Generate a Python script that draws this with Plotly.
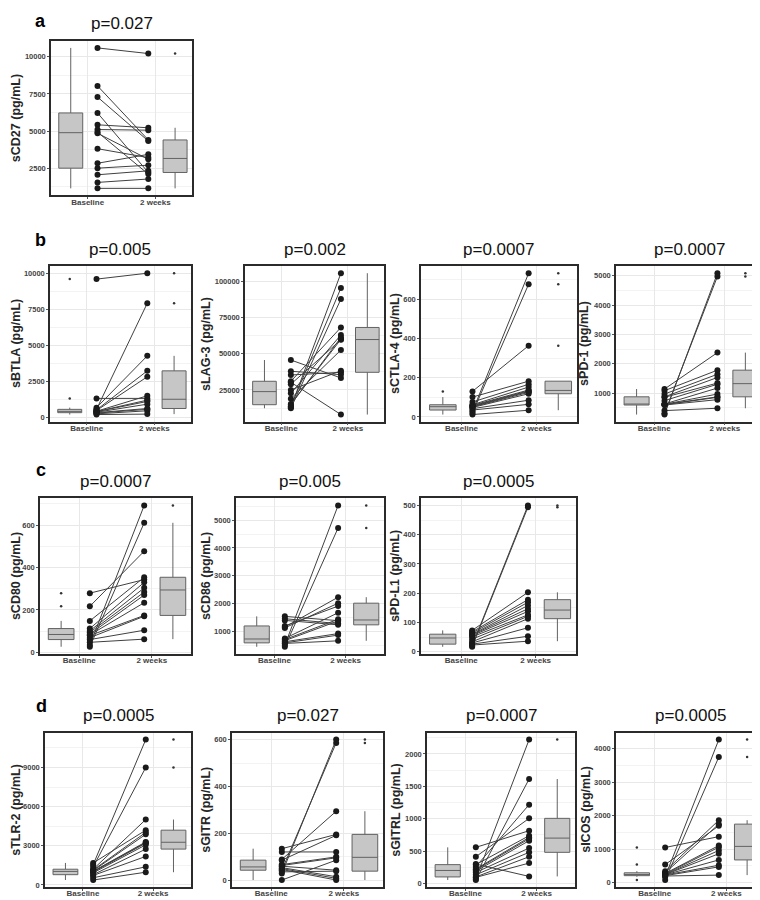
import plotly.graph_objects as go

GROUPS = ["Baseline", "2 weeks"]

NAMES = ["sCD27", "sBTLA", "sLAG-3", "sCTLA-4", "sPD-1", "sCD80", "sCD86",
         "sPD-L1", "sTLR-2", "sGITR", "sGITRL", "sICOS"]
PVALS = ["p=0.027", "p=0.005", "p=0.002", "p=0.0007", "p=0.0007", "p=0.0007",
         "p=0.005", "p=0.0005", "p=0.0005", "p=0.027", "p=0.0007", "p=0.0005"]
DTICKS = [2500, 2500, 25000, 200, 1000, 200, 1000, 100, 3000, 200, 500, 1000]

CD27_BASE = [10600, 8040, 7290, 6220, 5420, 5100, 4930, 4850, 3810, 2830, 2500, 2055, 1540, 1140]
CD27_WK2 = [10220, 4400, 4330, 2210, 5220, 5060, 2100, 3100, 3210, 3430, 2700, 2320, 1770, 1140]

BTLA_BASE = [9590, 1320, 680, 560, 520, 480, 430, 410, 400, 360, 330, 300, 250, 200]
BTLA_WK2 = [10000, 1320, 4270, 7920, 3230, 2820, 1500, 1200, 1110, 920, 620, 560, 460, 230]

LAG3_BASE = [12350, 13000, 13700, 14800, 15300, 19000, 22700, 25000, 29000, 30300, 31000, 35350, 37900, 45700]
LAG3_WK2 = [87800, 105700, 95400, 61300, 60000, 52600, 63000, 38300, 59700, 8000, 68200, 37200, 35600, 33300]

CTLA4_BASE = [130, 101, 76, 62, 59, 56, 53, 51, 48, 42, 35, 28, 20, 12]
CTLA4_WK2 = [363, 182, 166, 152, 137, 133, 130, 125, 118, 85, 64, 732, 676, 34]

PD1_BASE = [1136, 1080, 966, 870, 853, 740, 625, 615, 610, 600, 590, 400, 310, 265]
PD1_WK2 = [2380, 1780, 1640, 1530, 1340, 1300, 1170, 966, 870, 853, 774, 480, 4980, 5090]

CD80_BASE = [279, 217, 148, 112, 101, 94, 86, 82, 79, 69, 60, 47, 34, 26]
CD80_WK2 = [343, 477, 354, 330, 304, 284, 270, 234, 174, 170, 104, 62, 693, 611]

CD86_BASE = [1535, 1450, 1390, 1190, 1150, 1120, 740, 700, 660, 620, 580, 560, 500, 440]
CD86_WK2 = [1380, 1275, 1230, 1905, 2225, 2010, 1665, 1430, 1370, 915, 860, 655, 5530, 4720]

PDL1_BASE = [73, 68, 64, 60, 58, 55, 51, 43, 34, 30, 26, 23, 20, 17]
PDL1_WK2 = [203, 178, 169, 158, 147, 138, 126, 121, 113, 82, 53, 36, 500, 494]

TLR2_BASE = [1690, 1560, 1390, 1210, 1150, 1100, 1050, 1030, 1000, 930, 790, 730, 555, 380]
TLR2_WK2 = [4200, 11140, 9000, 5015, 4030, 3880, 3300, 3250, 3200, 3075, 2750, 2190, 1390, 980]

GITR_BASE = [134, 120, 88, 85, 66, 62, 59, 53, 49, 45, 42, 35, 28, 0]
GITR_WK2 = [195, 120, 294, 191, 99, 95, 42, 14, 7, 0, 586, 38, 600, 85]

GITRL_BASE = [557, 412, 299, 290, 258, 222, 210, 190, 170, 134, 100, 93, 70, 52]
GITRL_WK2 = [814, 1005, 108, 737, 1217, 710, 690, 660, 546, 480, 412, 314, 2222, 1613]

ICOS_BASE = [1052, 540, 344, 295, 275, 260, 246, 240, 235, 230, 210, 200, 177, 79]
ICOS_WK2 = [1376, 1700, 1868, 1750, 1110, 1060, 963, 865, 680, 521, 472, 226, 4276, 3755]

BASES = [CD27_BASE, BTLA_BASE, LAG3_BASE, CTLA4_BASE, PD1_BASE, CD80_BASE,
         CD86_BASE, PDL1_BASE, TLR2_BASE, GITR_BASE, GITRL_BASE, ICOS_BASE]
WK2S = [CD27_WK2, BTLA_WK2, LAG3_WK2, CTLA4_WK2, PD1_WK2, CD80_WK2,
        CD86_WK2, PDL1_WK2, TLR2_WK2, GITR_WK2, GITRL_WK2, ICOS_WK2]

W, H = 760, 900
# panel plot areas in pixels: left, right, row, y-title centre x
ROW_Y = [(33, 188), (259, 415), (492, 648), (727, 882)]
PANEL_PX = [
    (43, 184, 0, 8),
    (42, 183, 1, 8), (237, 376, 1, 198), (413, 569, 1, 387), (608, 755, 1, 576),
    (32, 183, 2, 8), (228, 376, 2, 198), (413, 568, 2, 387),
    (37, 183, 3, 8), (224, 375, 3, 198), (419, 567, 3, 388), (608, 757, 3, 578),
]
LETTERS = [("a", 32, 1), ("b", 32, 221), ("c", 33, 452), ("d", 33, 688)]

BOX_X = (0.14, 0.88)
DOT_X = (0.33, 0.69)
TICK_X = (0.26, 0.74)

FONT = "Liberation Sans, Arial, sans-serif"

fig = go.Figure()
layout = dict(
    width=W, height=H, margin=dict(l=0, r=0, t=0, b=0),
    paper_bgcolor="white", plot_bgcolor="white", showlegend=False,
    font=dict(family=FONT), annotations=[],
)

for i, (name, pv, dt, base, wk2) in enumerate(zip(NAMES, PVALS, DTICKS, BASES, WK2S)):
    left, right, row, tx = PANEL_PX[i]
    top, bottom = ROW_Y[row]
    k = "" if i == 0 else str(i + 1)
    xa, ya = "x" + k, "y" + k

    allv = base + wk2
    lo, hi = min(allv), max(allv)
    pad = 0.05 * (hi - lo)

    for pos, vals in zip(BOX_X, (base, wk2)):
        fig.add_trace(go.Box(
            y=vals, x=[pos] * len(vals), xaxis=xa, yaxis=ya, width=0.17,
            fillcolor="#c6c6c6", line=dict(color="#626262", width=1),
            whiskerwidth=0, boxpoints="outliers", jitter=0, pointpos=0,
            marker=dict(color="#333333", size=2.5),
            hoverinfo="y",
        ))

    xs, ys = [], []
    for b, w in zip(base, wk2):
        xs += [DOT_X[0], DOT_X[1], None]
        ys += [b, w, None]
    fig.add_trace(go.Scatter(
        x=xs, y=ys, xaxis=xa, yaxis=ya, mode="lines+markers",
        line=dict(color="#404040", width=1),
        marker=dict(color="#1a1a1a", size=6),
    ))

    axis_common = dict(
        showline=True, mirror=True, linecolor="#2b2b2b", linewidth=1.5,
        ticks="outside", ticklen=2, tickcolor="#555555",
        zeroline=False, gridcolor="#e8e8e8", gridwidth=1,
    )
    layout["xaxis" + k] = dict(
        axis_common, domain=[left / W, right / W], anchor=ya, range=[0, 1],
        tickvals=list(TICK_X), ticktext=GROUPS, ticklabelstandoff=-4,
        tickfont=dict(size=8, color="#444444", weight="bold"),
    )
    layout["yaxis" + k] = dict(
        axis_common, domain=[1 - bottom / H, 1 - top / H], anchor=xa,
        range=[lo - pad, hi + pad], tick0=0, dtick=dt, tickformat="d",
        ticklabelstandoff=0,
        minor=dict(dtick=dt / 2, tick0=0, showgrid=True, gridcolor="#f3f3f3", ticks=""),
        tickfont=dict(size=7.5, color="#444444", weight="bold"),
    )
    layout["annotations"].append(dict(
        text=name + " (pg/mL)", xref="paper", yref="paper", textangle=-90,
        x=tx / W, y=1 - (top + bottom) / 2 / H,
        xanchor="center", yanchor="middle", showarrow=False, borderpad=0,
        font=dict(size=12.5, color="#262626", weight="bold"),
    ))
    layout["annotations"].append(dict(
        text=pv, xref="paper", yref="paper",
        x=(left + right) / 2 / W, y=1 - (top - 17) / H,
        xanchor="center", yanchor="middle", showarrow=False,
        font=dict(size=17, color="#111111"),
    ))

for letter, lx, ly in LETTERS:
    layout["annotations"].append(dict(
        text=letter, xref="paper", yref="paper", x=lx / W, y=1 - ly / H,
        xanchor="center", yanchor="top", showarrow=False,
        font=dict(size=18, color="#000000", weight="bold"),
    ))

fig.update_layout(**layout)
fig.write_html("out.html")
